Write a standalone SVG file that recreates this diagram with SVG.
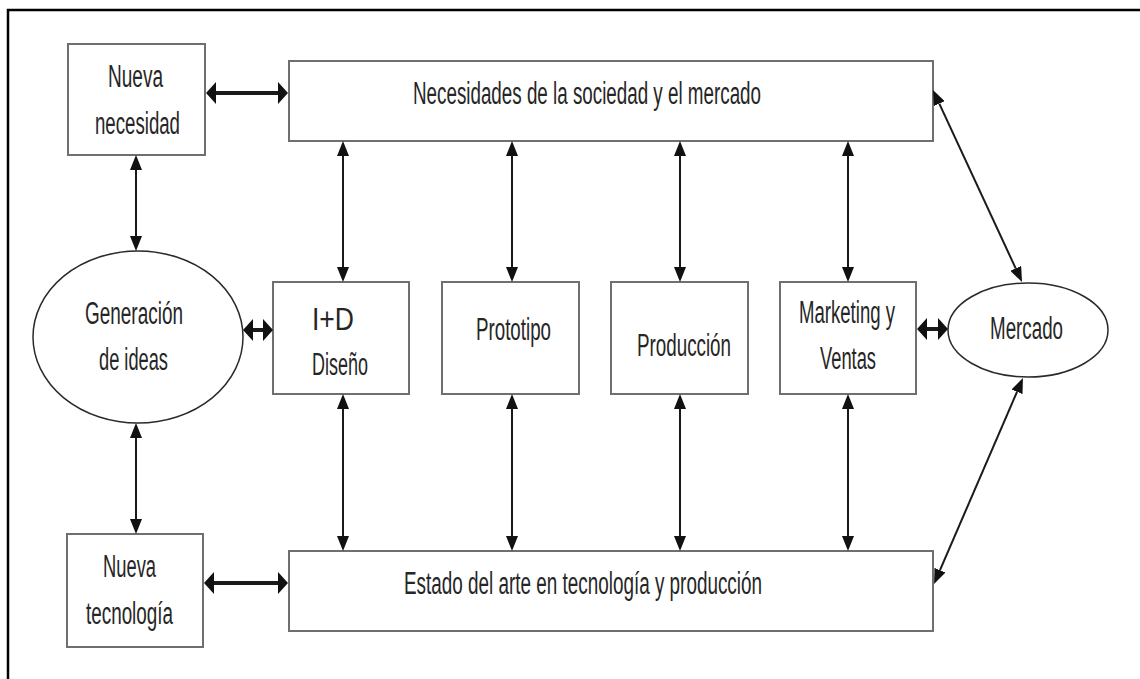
<svg xmlns="http://www.w3.org/2000/svg" width="1140" height="679" viewBox="0 0 1140 679">
  <style>
    .box { fill: #ffffff; stroke: #6f6f6f; stroke-width: 2; }
    .oval { fill: #ffffff; stroke: #2a2a2a; stroke-width: 1.5; }
    .lbl { font-family: "Liberation Sans", Arial, sans-serif; font-size: 31px; fill: #262626; }
    .thin { stroke: #1a1a1a; stroke-width: 2; fill: none; marker-start: url(#headThin); marker-end: url(#headThin); }
    .thick { stroke: #1a1a1a; stroke-width: 4; fill: none; marker-start: url(#headThick); marker-end: url(#headThick); }
  </style>
  <defs>
    <!-- arrowheads: base sits on the line end, tip extends beyond it -->
    <marker id="headThin" markerUnits="userSpaceOnUse" viewBox="0 -6 15 12" refX="0" refY="0" markerWidth="15" markerHeight="12" orient="auto-start-reverse">
      <path d="M0,-6 L15,0 L0,6 Z" fill="#111"/>
    </marker>
    <marker id="headThick" markerUnits="userSpaceOnUse" viewBox="0 -11 10 22" refX="0" refY="0" markerWidth="10" markerHeight="22" orient="auto-start-reverse">
      <path d="M0,-11 L10,0 L0,11 Z" fill="#111"/>
    </marker>
  </defs>

  <rect width="1140" height="679" fill="#ffffff"/>
  <!-- outer frame -->
  <rect x="8" y="10" width="1200" height="720" fill="none" stroke="#000" stroke-width="2.5"/>

  <g id="nueva-necesidad">
    <rect class="box" x="68" y="44" width="137" height="111"/>
    <text class="lbl" x="108" y="87" textLength="55" lengthAdjust="spacingAndGlyphs">Nueva</text>
    <text class="lbl" x="95" y="134" textLength="85" lengthAdjust="spacingAndGlyphs">necesidad</text>
  </g>

  <g id="necesidades">
    <rect class="box" x="289" y="61" width="644" height="80"/>
    <text class="lbl" x="413" y="104" textLength="348" lengthAdjust="spacingAndGlyphs">Necesidades de la sociedad y el mercado</text>
  </g>

  <g id="generacion">
    <ellipse class="oval" cx="138" cy="337" rx="105" ry="86"/>
    <text class="lbl" x="85" y="324" textLength="98" lengthAdjust="spacingAndGlyphs">Generación</text>
    <text class="lbl" x="99" y="370" textLength="69" lengthAdjust="spacingAndGlyphs">de ideas</text>
  </g>

  <g id="id-diseno">
    <rect class="box" x="273" y="282" width="136" height="112"/>
    <text class="lbl" x="312" y="330" textLength="42" lengthAdjust="spacingAndGlyphs">I+D</text>
    <text class="lbl" x="312" y="375" textLength="56" lengthAdjust="spacingAndGlyphs">Diseño</text>
  </g>

  <g id="prototipo">
    <rect class="box" x="442" y="282" width="137" height="112"/>
    <text class="lbl" x="476" y="340" textLength="75" lengthAdjust="spacingAndGlyphs">Prototipo</text>
  </g>

  <g id="produccion">
    <rect class="box" x="611" y="282" width="137" height="112"/>
    <text class="lbl" x="637" y="356" textLength="94" lengthAdjust="spacingAndGlyphs">Producción</text>
  </g>

  <g id="marketing">
    <rect class="box" x="780" y="282" width="136" height="112"/>
    <text class="lbl" x="799" y="323" textLength="96" lengthAdjust="spacingAndGlyphs">Marketing y</text>
    <text class="lbl" x="820" y="369" textLength="56" lengthAdjust="spacingAndGlyphs">Ventas</text>
  </g>

  <g id="mercado">
    <ellipse class="oval" cx="1028" cy="330" rx="80" ry="47"/>
    <text class="lbl" x="990" y="339" textLength="73" lengthAdjust="spacingAndGlyphs">Mercado</text>
  </g>

  <g id="nueva-tecnologia">
    <rect class="box" x="67" y="534" width="136" height="113"/>
    <text class="lbl" x="103" y="577" textLength="53" lengthAdjust="spacingAndGlyphs">Nueva</text>
    <text class="lbl" x="86" y="624" textLength="87" lengthAdjust="spacingAndGlyphs">tecnología</text>
  </g>

  <g id="estado-del-arte">
    <rect class="box" x="289" y="551" width="644" height="80"/>
    <text class="lbl" x="404" y="594" textLength="358" lengthAdjust="spacingAndGlyphs">Estado del arte en tecnología y producción</text>
  </g>

  <g id="connectors">
    <!-- heavy horizontal links -->
    <line class="thick" x1="216" y1="93" x2="278" y2="93"/>
    <line class="thick" x1="214" y1="583" x2="278" y2="583"/>
    <line class="thick" x1="253" y1="330" x2="263" y2="330"/>
    <line class="thick" x1="927" y1="329" x2="938" y2="329"/>

    <!-- idea generation column -->
    <line class="thin" x1="136" y1="170" x2="136" y2="236"/>
    <line class="thin" x1="136" y1="438" x2="136" y2="519"/>

    <!-- needs bar to stages -->
    <line class="thin" x1="343" y1="156" x2="343" y2="267"/>
    <line class="thin" x1="512" y1="156" x2="512" y2="267"/>
    <line class="thin" x1="680" y1="156" x2="680" y2="267"/>
    <line class="thin" x1="848" y1="156" x2="848" y2="267"/>

    <!-- stages to technology bar -->
    <line class="thin" x1="343" y1="409" x2="343" y2="536"/>
    <line class="thin" x1="512" y1="409" x2="512" y2="536"/>
    <line class="thin" x1="680" y1="409" x2="680" y2="536"/>
    <line class="thin" x1="848" y1="409" x2="848" y2="536"/>

    <!-- market diagonals -->
    <line class="thin" x1="939.3" y1="103.6" x2="1015.7" y2="268.4"/>
    <line class="thin" x1="1017" y1="391.8" x2="940" y2="570.2"/>
  </g>
</svg>
